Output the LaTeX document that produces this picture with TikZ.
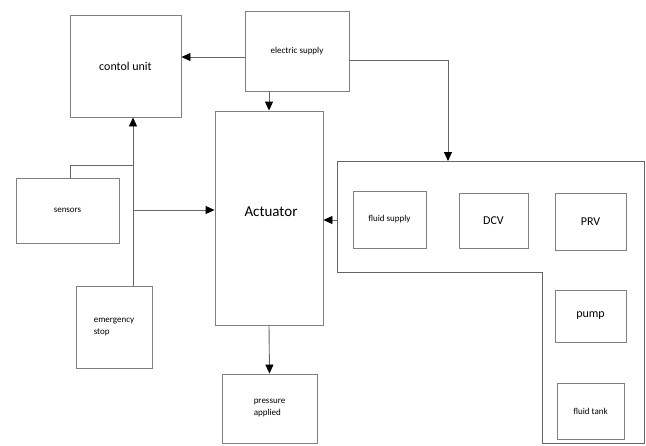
\documentclass[tikz,border=0pt]{standalone}
\usepackage{fontspec}
\setmainfont{Carlito}
\usetikzlibrary{arrows.meta, calc}

\begin{document}
\begin{tikzpicture}[x = 1pt, y = -1pt,
  blk/.style = {draw = gray, line width = 0.9pt, inner sep = 2pt},
  conn/.style = {draw = gray!80!black, line width = 0.9pt},
  arr/.style = {conn, -{Triangle[length = 9pt, width = 8pt, black]}},
  small/.style = {font = \fontsize{9}{12}\selectfont},
  mid/.style = {font = \fontsize{12}{14}\selectfont}]

\useasboundingbox (0, 0) rectangle (646, 445);

% blocks
\node[blk, mid, minimum width = 111pt, minimum height = 102pt] (cu) at (125.5, 66) {contol unit};
\node[blk, small, minimum width = 104pt, minimum height = 80pt] (es) at (297, 51) {electric supply};
\node[blk, minimum width = 108pt, minimum height = 214pt] (act) at (269, 218) {};
\node[font = \fontsize{15}{17}\selectfont] (acttxt) at (271, 212) {Actuator};
\node[blk, small, minimum width = 103pt, minimum height = 65pt] (sen) at (67.5, 210.5) {sensors};
\node[blk, small, align = left, minimum width = 76pt, minimum height = 82pt] (em) at (114, 327) {emergency\\stop};
\node[blk, small, align = left, minimum width = 95pt, minimum height = 69pt] (pa) at (269.5, 408.5) {pressure\\applied};

% hydraulic unit
\draw[conn] (337, 161) -- (644, 161) -- (644, 443) -- (542, 443) -- (542, 272) -- (337, 272) -- cycle;
\node[blk, small, minimum width = 73pt, minimum height = 57pt] (fs) at (389.5, 219.5) {fluid supply};
\node[blk, mid, minimum width = 69pt, minimum height = 55pt] (dcv) at (493.5, 220.5) {DCV};
\node[blk, mid, minimum width = 71pt, minimum height = 57pt] (prv) at (590.5, 221.5) {PRV};
\node[blk, mid, minimum width = 71pt, minimum height = 52pt] (pump) at (590.5, 316) {pump};
\node[blk, small, minimum width = 67pt, minimum height = 56pt] (ft) at (590.5, 411) {fluid tank};

\coordinate (hyd) at (448, 161);
\coordinate (hw) at (337, 220);
\coordinate (j) at (133, 165);
\coordinate (k) at (133, 210);

% connections
\draw[arr] ([yshift = -6pt]es.west) -- ([yshift = -6pt]es.west -| cu.east);
\draw[arr] (act.north |- es.south) -- (act.north);
\draw[arr] ([yshift = -9pt]es.east) -| (hyd);
\draw[arr] (hw) -- (hw -| act.east);
\draw[conn] (70, 178) |- (j);
\draw[conn] (j |- em.north) -- (j);
\draw[arr] (j) -- (j |- cu.south);
\draw[arr] (k) -- (k -| act.west);
\draw[arr] (act.south) -- (pa.north);

\end{tikzpicture}
\end{document}
